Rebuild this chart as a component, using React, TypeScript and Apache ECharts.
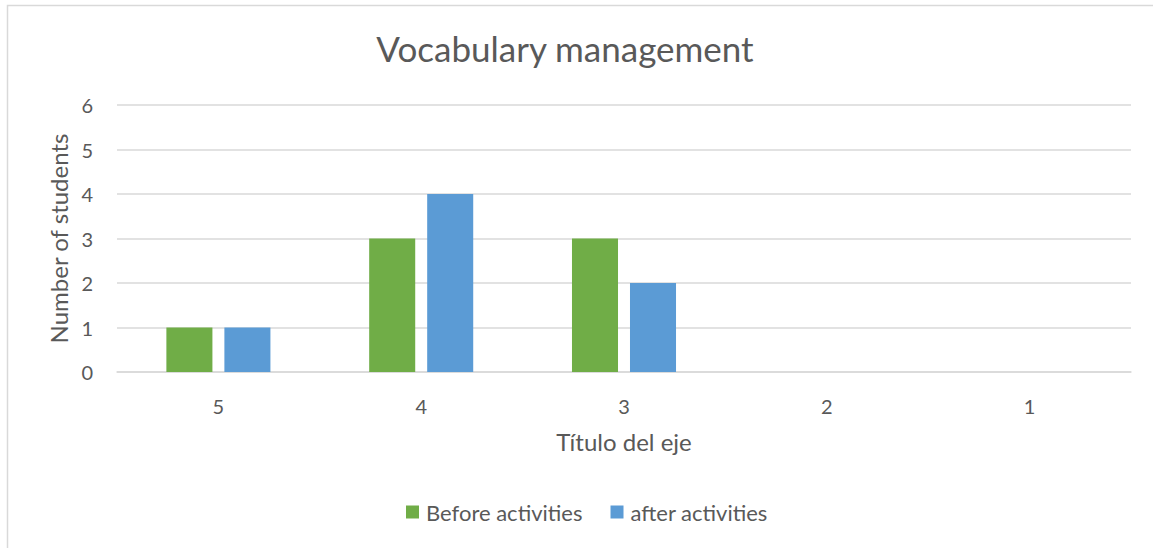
import React, { useEffect, useRef } from "react";
import * as echarts from "echarts";

const categories = ["5", "4", "3", "2", "1"];
const beforeActivities = [1, 3, 3, 0, 0];
const afterActivities = [1, 4, 2, 0, 0];
const seriesNames = ["Before activities", "after activities"];

const FONT = "Lato";
const TEXT = "#595959";

export default function App() {
  const ref = useRef<HTMLDivElement>(null);
  useEffect(() => {
    document.body.style.margin = "0";
    const chart = echarts.init(ref.current!, undefined, { renderer: "svg" });
    chart.setOption({
      animation: false,
      textStyle: { fontFamily: FONT },
      title: {
        text: "Vocabulary management",
        left: 560,
        textAlign: "center",
        top: 25,
        textStyle: { fontFamily: FONT, fontSize: 35, fontWeight: "normal", color: TEXT },
      },
      graphic: [
        {
          type: "rect",
          shape: { x: 7.5, y: 5.5, width: 1300, height: 700 },
          style: { fill: "none", stroke: "#d9d9d9", lineWidth: 1.5 },
          silent: true,
        },
      ],
      legend: {
        top: 501,
        left: 406,
        padding: 0,
        itemWidth: 13,
        itemHeight: 13,
        itemGap: 28,
        icon: "rect",
        textStyle: { fontFamily: FONT, fontSize: 22, color: TEXT, padding: [0, 0, 0, 2] },
        data: seriesNames,
      },
      grid: { left: 117, right: 22, top: 105, bottom: 176 },
      xAxis: {
        type: "category",
        data: categories,
        name: "Título del eje",
        nameLocation: "middle",
        nameGap: 57,
        nameTextStyle: { fontFamily: FONT, fontSize: 24, color: TEXT },
        axisLine: { lineStyle: { color: "#d9d9d9", width: 1.5 } },
        axisTick: { show: false },
        axisLabel: { fontFamily: FONT, fontSize: 20, color: TEXT, margin: 24 },
      },
      yAxis: {
        type: "value",
        min: 0,
        max: 6,
        interval: 1,
        name: "Number of students",
        nameLocation: "middle",
        nameGap: 45,
        nameTextStyle: { fontFamily: FONT, fontSize: 24, color: TEXT },
        axisLine: { show: false },
        axisTick: { show: false },
        axisLabel: { fontFamily: FONT, fontSize: 20, color: TEXT, margin: 24 },
        splitLine: { lineStyle: { color: "#d9d9d9", width: 1.5 } },
      },
      series: [
        {
          name: seriesNames[0],
          type: "bar",
          data: beforeActivities,
          itemStyle: { color: "#70AD47" },
          barWidth: "22.7%",
          barGap: "26%",
        },
        {
          name: seriesNames[1],
          type: "bar",
          data: afterActivities,
          itemStyle: { color: "#5B9BD5" },
          barWidth: "22.7%",
          barGap: "26%",
        },
      ],
    });
    return () => chart.dispose();
  }, []);
  return <div ref={ref} style={{ width: 1153, height: 548 }} />;
}
